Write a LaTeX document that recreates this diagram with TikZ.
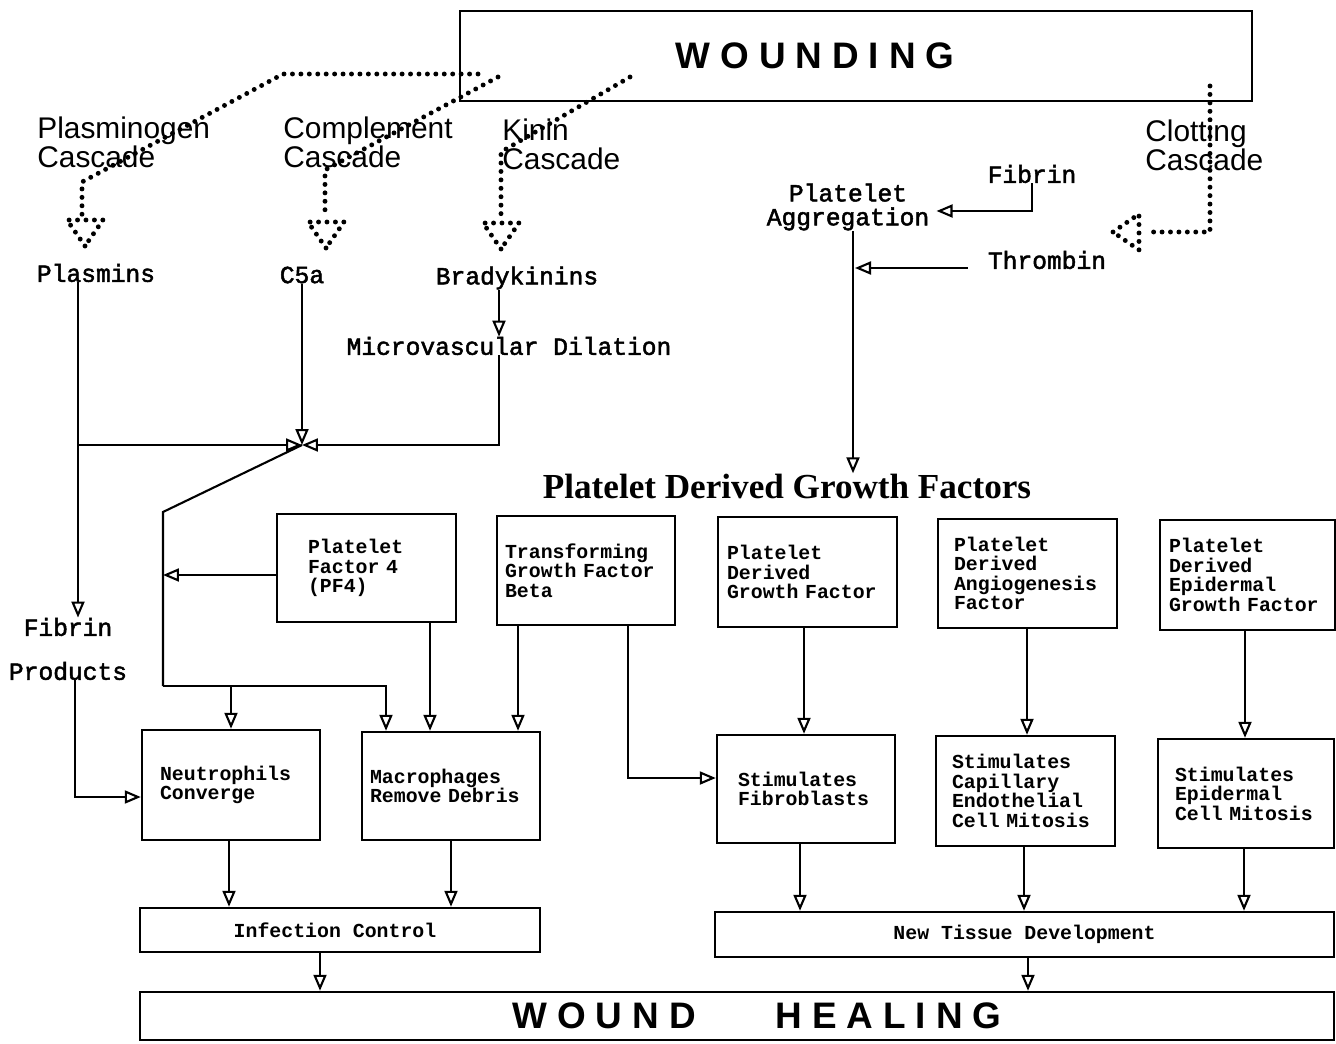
\documentclass[tikz,border=0pt]{standalone}
\usepackage{fontspec}
\usetikzlibrary{arrows.meta}
\newfontfamily\labelfont{Liberation Sans}
\newfontfamily\spacedfont[LetterSpace=27]{Liberation Sans}
\newfontfamily\typefont[FakeBold=2]{Liberation Mono}
\newfontfamily\boxtype{Liberation Mono}
\newfontfamily\titlefont{Liberation Serif}
\newcommand\cascfont{\labelfont\fontsize{17pt}{16.5pt}\selectfont}
\newcommand\agentfont{\typefont\fontsize{14pt}{13.6pt}\selectfont}
\newcommand\boxfont{\boxtype\bfseries\fontsize{11.3pt}{11.1pt}\selectfont}
\newcommand\bigword{\spacedfont\bfseries\fontsize{21pt}{21pt}\selectfont}

\tikzset{
  flow/.style={line width=1.2pt, -{Triangle[open,length=3.2mm,width=2.6mm]}},
  wire/.style={line width=1.2pt},
  dots/.style={line width=2.8pt, line cap=round, dash pattern=on 0pt off 4.8pt},
  frame/.style={draw, line width=1.4pt, inner sep=0},
  casc/.style={anchor=north west, align=left, inner sep=0, font=\cascfont},
  agent/.style={align=center, inner sep=0, font=\agentfont},
  factor/.style={draw, line width=1.4pt, align=left, font=\boxfont, inner ysep=0},
  pics/dot-head/.style={code={\draw [dots] (0,0) -- (-18,-26) -- (18,-26) -- cycle;}}
}

\begin{document}
\begin{tikzpicture}[x=0.02cm, y=-0.02cm]
\useasboundingbox (0,0) rectangle (1336,1044);

% wounding and the four cascades
\node [frame, minimum width=15.84cm, minimum height=1.8cm] (wounding) at (856,56) {\bigword WOUNDING\kern1.64cm};

\node [casc] (plasminogen) at (37,117) {Plasminogen\\Cascade};
\node [casc] (complement) at (283,117) {Complement\\Cascade};
\node [casc] (kinin) at (502,119) {Kinin\\Cascade};
\node [casc] (clotting) at (1145,120) {Clotting\\Cascade};

\draw [dots] (478,74) -- (283,74) -- (82,182) -- (82,216);
\pic at (85,246) {dot-head};
\draw [dots] (498,77) -- (325,170) -- (325,216);
\pic at (326,248) {dot-head};
\draw [dots] (630,77) -- (501,152) -- (501,216);
\pic at (501,249) {dot-head};
\draw [dots] (1210,86) -- (1210,232) -- (1146,232);
\pic [rotate=-90] at (1113,232) {dot-head};

% mediators
\node [agent] (plasmins) at (96,273) {Plasmins};
\node [agent] (c5a) at (302,275) {C5a};
\node [agent] (bradykinins) at (517,278) {Bradykinins};
\node [agent] (microvasc) at (509,346) {Microvascular Dilation};
\node [agent] (aggreg) at (848,207) {Platelet\\Aggregation};
\node [agent] (fibrin-top) at (1032,174) {Fibrin};
\node [agent] (thrombin) at (1047,260) {Thrombin};
\node [agent] (fibrin-left) at (68,627) {Fibrin};
\node [agent] (products) at (68,671) {Products};

\node [font=\titlefont\bfseries\fontsize{20pt}{20pt}\selectfont, inner sep=0] (pdgf-title) at (787,486) {Platelet Derived Growth Factors};

% factor boxes
\node [factor, minimum height=2.16cm, text width=2.34cm, inner xsep=0.62cm] (pf4) at (366.5,568) {Platelet\\Factor 4\\(PF4)};
\node [factor, minimum height=2.18cm, text width=3.24cm, inner xsep=0.16cm] (tgf) at (586,570.5) {Transforming\\Growth Factor\\Beta};
\node [factor, minimum height=2.2cm, text width=3.22cm, inner xsep=0.18cm] (pdgf) at (807.5,572) {Platelet\\Derived\\Growth Factor};
\node [factor, minimum height=2.18cm, text width=2.94cm, inner xsep=0.32cm] (pdaf) at (1027.5,573.5) {Platelet\\Derived\\Angiogenesis\\Factor};
\node [factor, minimum height=2.2cm, text width=3.14cm, inner xsep=0.18cm] (pdegf) at (1247.5,575) {Platelet\\Derived\\Epidermal\\Growth Factor};

\node [factor, minimum height=2.2cm, text width=2.84cm, inner xsep=0.36cm] (neutro) at (231,785) {Neutrophils\\Converge};
\node [factor, minimum height=2.16cm, text width=3.24cm, inner xsep=0.16cm] (macro) at (451,786) {Macrophages\\Remove Debris};
\node [factor, minimum height=2.16cm, text width=2.72cm, inner xsep=0.42cm] (fibro) at (806,789) {Stimulates\\Fibroblasts};
\node [factor, minimum height=2.2cm, text width=2.94cm, inner xsep=0.32cm] (capil) at (1025.5,791) {Stimulates\\Capillary\\Endothelial\\Cell Mitosis};
\node [factor, minimum height=2.18cm, text width=2.84cm, inner xsep=0.34cm] (epid) at (1246,793.5) {Stimulates\\Epidermal\\Cell Mitosis};

\node [frame, font=\boxfont, minimum width=8cm, minimum height=0.88cm] (infect) at (340,930) {Infection Control\kern0.2cm};
\node [frame, font=\boxfont, minimum width=12.38cm, minimum height=0.9cm] (ntd) at (1024.5,934.5) {New Tissue Development};
\node [frame, minimum width=23.88cm, minimum height=0.96cm] (healing) at (737,1016) {\bigword \kern0.8cm WOUND\kern1.6cm HEALING};

% connectors, upper part
\coordinate (merge) at (302,445);
\draw [flow] (plasmins.south -| 78,0) -- (fibrin-left.north -| 78,0);
\draw [flow] (plasmins.south -| 78,0) |- (merge);
\draw [flow] (c5a.south) -- (merge);
\draw [flow] (bradykinins.south -| 499,0) -- (microvasc.north -| 499,0);
\draw [flow] (microvasc.south -| 499,0) |- (merge);

\draw [flow] (fibrin-top.south) |- ([xshift=0.14cm]aggreg.east |- 0,211);
\draw [flow] (aggreg.south -| 853,0) -- (pdgf-title.north -| 853,0);
\draw [flow] ([xshift=-0.4cm]thrombin.west |- 0,268) -- (855,268);

% connectors, left branch
\coordinate (bend-a) at (163,512);
\coordinate (bend-b) at (163,686);
\draw [wire] (merge) -- (bend-a) -- (bend-b);
\draw [flow] (pf4.west |- 0,575) -- (bend-a |- 0,575);
\draw [flow] (bend-b) -| (macro.north -| 386,0);
\draw [flow] (bend-b -| neutro.north) -- (neutro.north);
\draw [flow] (pf4.south -| 430,0) -- (macro.north -| 430,0);
\draw [flow] (tgf.south -| 518,0) -- (macro.north -| 518,0);
\draw [flow] (tgf.south -| 628,0) |- (fibro.west |- 0,778);
\draw [flow] (products.south -| 75,0) |- (neutro.west |- 0,797);

% connectors, growth factors
\draw [flow] (pdgf.south -| 804,0) -- (fibro.north -| 804,0);
\draw [flow] (pdaf.south -| 1027,0) -- (capil.north -| 1027,0);
\draw [flow] (pdegf.south -| 1245,0) -- (epid.north -| 1245,0);

% connectors, lower part
\draw [flow] (neutro.south -| 229,0) -- (infect.north -| 229,0);
\draw [flow] (macro.south -| 451,0) -- (infect.north -| 451,0);
\draw [flow] (fibro.south -| 800,0) -- (ntd.north -| 800,0);
\draw [flow] (capil.south -| 1024,0) -- (ntd.north -| 1024,0);
\draw [flow] (epid.south -| 1244,0) -- (ntd.north -| 1244,0);
\draw [flow] (infect.south -| 320,0) -- (healing.north -| 320,0);
\draw [flow] (ntd.south -| 1028,0) -- (healing.north -| 1028,0);

\end{tikzpicture}
\end{document}
